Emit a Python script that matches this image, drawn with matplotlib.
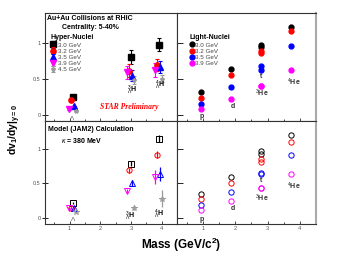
import numpy as np
import matplotlib
matplotlib.use("Agg")
import matplotlib.pyplot as plt
from matplotlib.ticker import MultipleLocator

plt.rcParams['font.family'] = ['Liberation Sans', 'DejaVu Sans']
plt.rcParams['mathtext.fontset'] = 'custom'
plt.rcParams['mathtext.rm'] = 'Liberation Sans'
plt.rcParams['mathtext.it'] = 'Liberation Sans:italic'
plt.rcParams['mathtext.bf'] = 'Liberation Sans:bold'

# energies / colours
energies = ["3.0 GeV", "3.2 GeV", "3.5 GeV", "3.9 GeV", "4.5 GeV"]
colors   = ["black", "red", "blue", "magenta", "#999999"]

# hyper-nuclei: Lambda, 3LH, 4LH
hyp_mass   = [1.116, 2.99, 3.92]
hyp_shift  = [0.0, -0.06, 0.04, -0.13, 0.1]
hyp_data   = [[0.245, 0.80, 0.97],
              [0.195, 0.61, 0.69],
              [0.115, 0.54, 0.66],
              [0.078, 0.59, 0.615],
              [0.05, 0.48, 0.50]]
hyp_err    = [[0.01, 0.10, 0.09],
              [0.01, 0.09, 0.08],
              [0.01, 0.08, 0.09],
              [0.01, 0.09, 0.10],
              [0.01, 0.05, 0.05]]
jam_hyp    = [[0.217, 0.79, 1.15],
              [0.15, 0.69, 0.92],
              [0.136, 0.51, 0.64],
              [0.136, 0.39, 0.59],
              [0.087, 0.15, 0.28]]
jam_hyp_err = [[0.02, 0.04, 0.05],
               [0.02, 0.04, 0.05],
               [0.02, 0.04, 0.10],
               [0.02, 0.03, 0.10],
               [0.02, 0.03, 0.12]]

# light nuclei: p, d, t, 3He, 4He
lt_mass = [0.938, 1.876, 2.809, 2.809, 3.727]
lt_data = [[0.31, 0.63, 0.97, 0.94, 1.21],
           [0.23, 0.55, 0.88, 0.85, 1.16],
           [0.15, 0.38, 0.68, 0.625, 0.95],
           [0.08, 0.217, 0.40, 0.40, 0.625]]
jam_lt  = [[0.35, 0.59, 0.97, 0.93, 1.21],
           [0.27, 0.50, 0.85, 0.81, 1.10],
           [0.18, 0.38, 0.66, 0.64, 0.91],
           [0.12, 0.25, 0.435, 0.435, 0.64]]

hyp_markers = ["s", "o", "^", "v", "*"]

fig = plt.figure(figsize=(3.55, 2.59), dpi=100)
axTL = fig.add_axes([0.1268, 0.5328, 0.3718, 0.417])
axTR = fig.add_axes([0.4986, 0.5328, 0.3915, 0.417])
axBL = fig.add_axes([0.1268, 0.1351, 0.3718, 0.3977])
axBR = fig.add_axes([0.4986, 0.1351, 0.3915, 0.3977])

for ax in [axTL, axTR, axBL, axBR]:
    ax.set_xlim(0.2, 4.5)
    ax.set_ylim(-0.09, 1.41)
    ax.xaxis.set_major_locator(MultipleLocator(1))
    ax.xaxis.set_minor_locator(MultipleLocator(0.5))
    ax.set_yticks([0, 0.5, 1])
    ax.tick_params(axis='x', which='both', direction='in', length=2.5, width=0.5,
                   labelsize=4, labelcolor='#555555', pad=1.5)
    ax.tick_params(axis='x', which='minor', length=1.5)
    ax.tick_params(axis='y', direction='inout', length=4, width=0.6,
                   labelsize=4, labelcolor='#555555', pad=1)
    for s in ax.spines.values():
        s.set_linewidth(0.8)
        s.set_color('#333333')
for ax in [axTR, axBR]:
    ax.spines['right'].set_color('#aaaaaa')
    ax.spines['right'].set_linewidth(1.5)
    ax.tick_params(axis='y', labelleft=False, direction='in')
axTL.tick_params(axis='x', labelbottom=False)
axTR.tick_params(axis='x', labelbottom=False)
axTL.set_yticklabels(["0", "0.5", "1"])
axBL.set_yticklabels(["0", "0.5", "1"])

# top-left: hyper-nuclei data
for i in range(5):
    x = np.array(hyp_mass) + hyp_shift[i]
    ms = 3.8 if i < 4 else 3
    axTL.errorbar(x, hyp_data[i], yerr=hyp_err[i], fmt=hyp_markers[i],
                  color=colors[i], ms=ms, elinewidth=0.8, capsize=1.2,
                  capthick=0.8, label=energies[i])
leg = axTL.legend(loc='upper left', bbox_to_anchor=(0.02, 0.83), frameon=False,
                  fontsize=4.5, handlelength=0.8, handletextpad=0.3,
                  labelspacing=0.12, borderpad=0, title="Hyper-Nuclei",
                  title_fontsize=5, alignment='left')
leg.get_title().set_fontweight('bold')
for t in leg.get_texts():
    t.set_color('#444444')
axTL.text(0.015, 0.985, "Au+Au Collisions at RHIC", transform=axTL.transAxes,
          fontsize=5, fontweight='bold', va='top', ha='left')
axTL.text(0.13, 0.895, "Centrality: 5-40%", transform=axTL.transAxes,
          fontsize=5, fontweight='bold', va='top', ha='left')
axTL.text(0.64, 0.13, "STAR Preliminary", transform=axTL.transAxes,
          fontsize=5.5, color='red', style='italic', fontweight='bold',
          family='Liberation Serif', ha='center', va='center')
axTL.text(1.09, -0.055, r"$\Lambda$", fontsize=4.5, color='#555555', ha='center', va='center')
axTL.text(3.03, 0.33, r"$^{3}_{\Lambda}$H", fontsize=5, fontweight='bold', ha='center', va='center')
axTL.text(3.95, 0.40, r"$^{4}_{\Lambda}$H", fontsize=5, fontweight='bold', ha='center', va='center')

# top-right: light nuclei data
for i in range(4):
    axTR.plot(lt_mass, lt_data[i], 'o', color=colors[i], ms=3.5, ls='none',
              label=energies[i])
leg2 = axTR.legend(loc='upper left', bbox_to_anchor=(0.07, 0.83), frameon=False,
                   fontsize=4.5, handlelength=0.6, handletextpad=0.3,
                   labelspacing=0.12, borderpad=0, title="Light-Nuclei",
                   title_fontsize=5, alignment='left')
leg2.get_title().set_fontweight('bold')
for t in leg2.get_texts():
    t.set_color('#444444')

lt_labels = ["p", "d", "t", r"$^{3}$He", r"$^{4}$He"]
lt_lab_top = [(0.97, -0.03), (1.93, 0.115), (2.8, 0.53), (2.83, 0.29), (3.82, 0.45)]
lt_lab_bot = [(0.97, -0.02), (1.93, 0.13), (2.8, 0.55), (2.83, 0.29), (3.82, 0.46)]
for lab, (x, y) in zip(lt_labels, lt_lab_top):
    axTR.text(x, y, lab, fontsize=5, fontweight='bold', color='#333333', ha='center', va='center')

# bottom-left: JAM2 hyper-nuclei
for i in range(5):
    x = np.array(hyp_mass) + hyp_shift[i]
    axBL.errorbar(x, jam_hyp[i], yerr=jam_hyp_err[i], fmt=hyp_markers[i],
                  color=colors[i], mfc='none', ms=3.8, mew=0.7,
                  elinewidth=0.9, capsize=0)
axBL.text(0.02, 0.95, "Model (JAM2) Calculation", transform=axBL.transAxes,
          fontsize=5, fontweight='bold', va='top', ha='left')
axBL.text(0.12, 0.85, r"$\kappa$ = 380 MeV", transform=axBL.transAxes,
          fontsize=5, fontweight='bold', va='top', ha='left')
axBL.text(1.12, -0.01, r"$\Lambda$", fontsize=4.5, color='#555555', ha='center', va='center')
axBL.text(2.98, 0.02, r"$^{3}_{\Lambda}$H", fontsize=5, fontweight='bold', ha='center', va='center')
axBL.text(3.92, 0.05, r"$^{4}_{\Lambda}$H", fontsize=5, fontweight='bold', ha='center', va='center')

# bottom-right: JAM2 light nuclei
for i in range(4):
    axBR.plot(lt_mass, jam_lt[i], 'o', color=colors[i], mfc='none', ms=3.8,
              mew=0.7, ls='none')
for lab, (x, y) in zip(lt_labels, lt_lab_bot):
    axBR.text(x, y, lab, fontsize=5, fontweight='bold', color='#333333', ha='center', va='center')

fig.text(0.51, 0.055, r"Mass (GeV/c$^\mathbf{2}$)", fontsize=8.5, fontweight='bold',
         ha='center', va='center')
fig.text(0.043, 0.5, r"dv$_\mathbf{1}$/dy|$_{\mathbf{y=0}}$", fontsize=7.5,
         fontweight='bold', rotation=90, ha='center', va='center')

fig.savefig("out.png", dpi=100)
